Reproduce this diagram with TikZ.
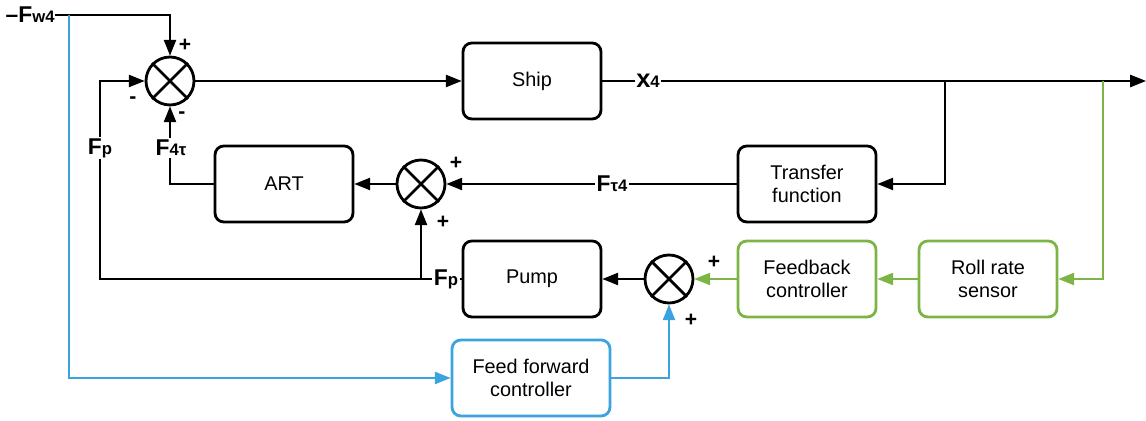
\documentclass[tikz,border=0pt]{standalone}
\usepackage{fontspec}
\setmainfont{Liberation Sans}
\usetikzlibrary{arrows.meta}

% Signal name with a small index
\newcommand{\sig}[2]{{\fontsize{13}{15}\selectfont\bfseries #1}{\fontsize{9.5}{11}\selectfont\bfseries #2}}

\begin{document}
\begin{tikzpicture}[x=0.02cm, y=-0.02cm,
    block/.style={draw, rounded corners=5pt, line width=1.6pt, minimum width=2.76cm, minimum height=1.52cm, align=center, font=\fontsize{11.3}{13.5}\selectfont},
    sumnode/.style={draw, circle, line width=1.6pt, minimum size=0.96cm, inner sep=0pt},
    wire/.style={line width=0.85pt},
    link/.style={wire, -{Triangle[length=9pt,width=7pt]}},
    sign/.style={font=\fontsize{12}{14}\selectfont\bfseries, inner sep=0pt},
    lbl/.style={fill=white, inner sep=1pt}]

    % Define colours
    \definecolor{blueLine}{HTML}{3BA3DE}
    \definecolor{greenLine}{HTML}{7CB546}

    % Fix the frame
    \useasboundingbox (0,0) rectangle (1146,421);

    % Blocks
    \node[block] (ship) at (532,81) {Ship};
    \node[block] (tf) at (807,184) {Transfer\\function};
    \node[block] (art) at (284,184) {ART};
    \node[block] (pump) at (532,279) {Pump};
    \node[block, draw=greenLine] (fb) at (807,279) {Feedback\\controller};
    \node[block, draw=greenLine] (roll) at (988,279) {Roll rate\\sensor};
    \node[block, draw=blueLine, minimum width=3.16cm] (ff) at (531,378) {Feed forward\\controller};

    % Summing points
    \node[sumnode] (s1) at (170,81) {};
    \node[sumnode] (s2) at (421,184) {};
    \node[sumnode] (s3) at (669,279) {};
    \foreach \s in {s1,s2,s3}
        \draw[line width=1.6pt] (\s.north west) -- (\s.south east) (\s.north east) -- (\s.south west);

    % Input and branch points
    \node[inner sep=0pt, anchor=east] (fw) at (55,15) {\textbf{\fontsize{13}{15}\selectfont --}\sig{F}{w4}};
    \coordinate (out) at (1146,81);
    \coordinate (tap1) at (945,81);
    \coordinate (tap2) at (1103,81);
    \coordinate (ffsplit) at (69,15);
    \coordinate (fpjoin) at (421,279);
    \coordinate (fploop) at (100,279);

    % Forward path
    \draw[link] (fw.east) -| (s1.north);
    \draw[link] (s1.east) -- (ship.west);
    \draw[link] (ship.east) -- (out);

    % ART loop
    \draw[link] (tap1) |- (tf.east);
    \draw[link] (tf.west) -- (s2.east);
    \draw[link] (s2.west) -- (art.east);
    \draw[link] (art.west) -| (s1.south);

    % Pump loop
    \draw[link] (s3.west) -- (pump.east);
    \draw[link] (pump.west) -- (fploop) |- (s1.west);
    \draw[link] (fpjoin) -- (s2.south);

    % Feedback path
    \draw[link, greenLine] (tap2) |- (roll.east);
    \draw[link, greenLine] (roll.west) -- (fb.east);
    \draw[link, greenLine] (fb.west) -- (s3.east);

    % Feed forward path
    \draw[link, blueLine] (ffsplit) |- (ff.west);
    \draw[link, blueLine] (ff.east) -| (s3.south);

    % Signal labels
    \node[lbl] (x4) at (648,81) {{\fontsize{14.5}{16}\selectfont\bfseries x}{\fontsize{9.5}{11}\selectfont\bfseries 4}};
    \node[lbl] (ftau4) at (612,184) {\sig{F}{τ4}};
    \node[lbl] (f4tau) at (171,148) {\sig{F}{4τ}};
    \node[lbl] (fpleft) at (100,148) {\sig{F}{p}};
    \node[lbl] (fppump) at (446,279) {\sig{F}{p}};

    % Signs
    \node[sign] at (185,45) {+};
    \node[sign] at (133,100) {-};
    \node[sign] at (182,115) {-};
    \node[sign] at (456,163) {+};
    \node[sign] at (443,222) {+};
    \node[sign] at (714,262) {+};
    \node[sign] at (691,320) {+};

\end{tikzpicture}
\end{document}
